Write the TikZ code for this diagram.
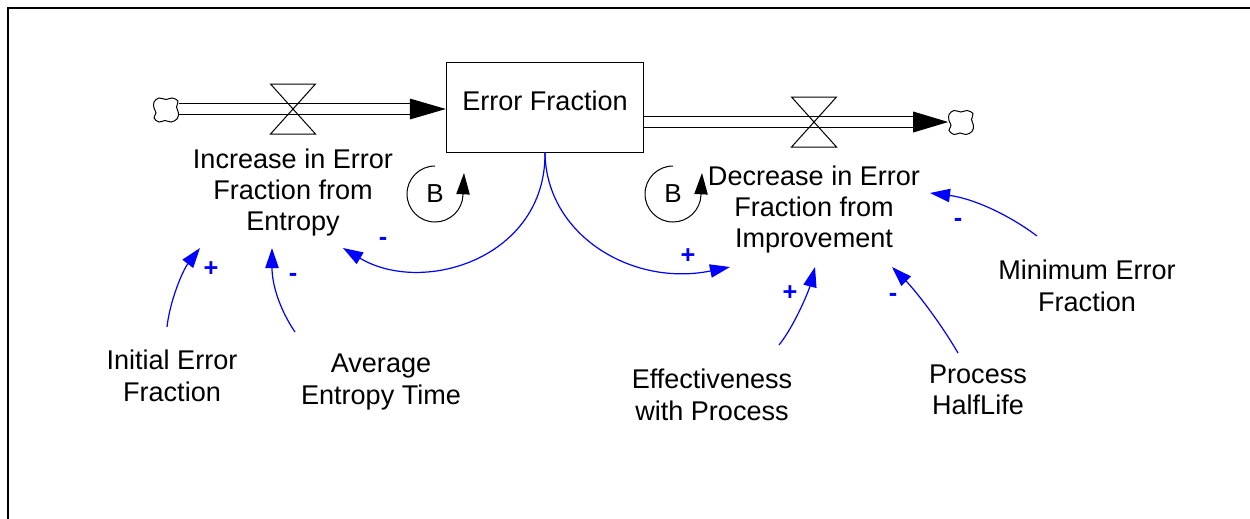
\documentclass[tikz,border=0pt]{standalone}
\usepackage{fontspec}
\setmainfont{Liberation Sans}
\usetikzlibrary{arrows.meta,calc}
\begin{document}
\begin{tikzpicture}[x=0.75pt,y=0.75pt,
  lbl/.style={align=center, font=\fontsize{20.3}{23.6}\selectfont, inner sep=0pt},
  sign/.style={text=blue, font=\fontsize{19}{21}\selectfont\bfseries, inner sep=0pt},
  link/.style={draw=blue, line width=0.9pt, -{Triangle[length=15pt,width=10pt]}},
  loopline/.style={draw=black, line width=0.75pt, -{Triangle[length=16pt,width=10pt]}},
  looptext/.style={font=\fontsize{19.5}{21}\selectfont, inner sep=0pt},
  pipe/.style={draw=black, line width=0.75pt, double=white, double distance=7.5pt},
  valveshape/.style={draw=black, line width=0.75pt},
  cloudline/.style={draw=black, line width=0.75pt},
  cloudspot/.style={inner sep=0pt, minimum size=18.75pt},
  stock/.style={draw=black, line width=0.75pt, minimum width=148pt, minimum height=67pt,
    align=center, font=\fontsize{20.3}{23.6}\selectfont, text height=14pt, text depth=9.6pt},
]
\useasboundingbox (0,0) rectangle (1250,-518);

% outer frame (top and left edges)
\draw[line width=1.5pt] (1262,-7.5) -- (8,-7.5) -- (8,-530);

% stock
\node[stock] (ef) at (545,-107.5) {Error Fraction};

% sources and sinks
\node[cloudspot] (cloudL) at (166,-110) {};
\node[cloudspot] (cloudR) at (961,-122.5) {};
\foreach \c in {cloudL,cloudR}{
  \begin{scope}[shift={(\c)}]
    \draw[cloudline] plot[smooth cycle, tension=0.6] coordinates {
      (-12,8) (-7,12) (0,10.5) (6,12) (12,9) (10.5,3) (12.5,-3) (11,-9)
      (5,-12) (-1,-10.5) (-7,-12) (-12,-8) (-10,-3) (-12,2)};
  \end{scope}
}

% valves
\coordinate (vInc) at (293,-109);
\coordinate (vDec) at (814,-122);

% inflow pipe
\draw[pipe, shorten >=26pt] (cloudL.east |- vInc) -- (ef.west |- vInc);
\fill (ef.west |- vInc) -- ++(-36,10.5) -- ++(0,-21) -- cycle;
% outflow pipe
\draw[pipe, shorten >=26pt] (ef.east |- vDec) -- (cloudR.west |- vDec);
\fill (cloudR.west |- vDec) -- ++(-35,10.5) -- ++(0,-21) -- cycle;

\foreach \v in {vInc,vDec}{
  \draw[valveshape] (\v) -- ++(-22.5,25) -- ++(45,0) -- cycle
                    (\v) -- ++(-22.5,-25) -- ++(45,0) -- cycle;
}

% flow and auxiliary names
\node[lbl] (inc) at (293,-192.5) {Increase in Error\\Fraction from\\Entropy};
\node[lbl] (dec) at (814,-209.5) {Decrease in Error\\Fraction from\\Improvement};
\node[lbl] (ini) at (172,-376) {Initial Error\\Fraction};
\node[lbl] (avg) at (381,-382) {Average\\Entropy Time};
\node[lbl] (eff) at (712,-395) {Effectiveness\\with Process};
\node[lbl] (phl) at (978,-390) {Process\\HalfLife};
\node[lbl] (mef) at (1087,-286) {Minimum Error\\Fraction};

% loop markers
\coordinate (loopL) at (435,-194);
\coordinate (loopR) at (673,-194);
\foreach \l in {loopL,loopR}{
  \draw[loopline] (\l) ++(90:21pt) arc[start angle=90, end angle=358, radius=21pt] -- ++(1,22);
}
\node[looptext] (bL) at (loopL) {B};
\node[looptext] (bR) at (loopR) {B};

% link end points
\coordinate (incFromEf) at (343,-248);
\coordinate (decFromEf) at (730,-267);
\coordinate (iniOut) at (167,-327);
\coordinate (incFromIni) at (200,-248);
\coordinate (avgOut) at (295,-332);
\coordinate (incFromAvg) at (272,-248);
\coordinate (effOut) at (779,-345);
\coordinate (decFromEff) at (815,-267);
\coordinate (phlOut) at (958,-353);
\coordinate (decFromPhl) at (892,-267);
\coordinate (mefOut) at (1037,-236);
\coordinate (decFromMef) at (930,-193);

% causal links
\draw[link] (ef.south) .. controls (546,-258) and (423,-296) .. (incFromEf);
\draw[link] (ef.south) .. controls (546,-235) and (632,-287) .. (decFromEf);
\draw[link] (iniOut) .. controls (170,-300) and (183,-270) .. (incFromIni);
\draw[link] (avgOut) .. controls (280,-310) and (272,-285) .. (incFromAvg);
\draw[link] (effOut) .. controls (795,-325) and (809,-290) .. (decFromEff);
\draw[link] (phlOut) .. controls (940,-322) and (915,-290) .. (decFromPhl);
\draw[link] (mefOut) .. controls (1005,-212) and (970,-198) .. (decFromMef);

% link polarities
\node[sign] (sIni) at (211,-269) {+};
\node[sign] (sAvg) at (293,-277) {-};
\node[sign] (sEfInc) at (383,-241) {-};
\node[sign] (sEfDec) at (688,-256) {+};
\node[sign] (sEff) at (790,-293) {+};
\node[sign] (sPhl) at (893,-297) {-};
\node[sign] (sMef) at (958,-222) {-};
\end{tikzpicture}
\end{document}
